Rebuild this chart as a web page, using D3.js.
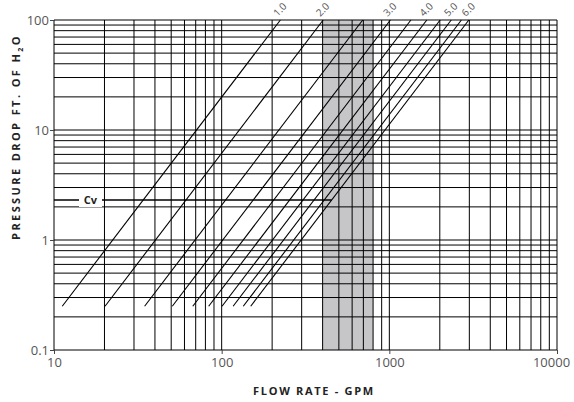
<!DOCTYPE html>
<html>
<head>
<meta charset="utf-8">
<script src="https://cdn.jsdelivr.net/npm/d3@7"></script>
<style>
  body { margin: 0; background: #fff; }
  svg text { font-family: "Open Sans", "Noto Sans", sans-serif; }
</style>
</head>
<body>
<svg id="chart" width="574" height="402"></svg>
<script>
// axis ticks
const flowTicks = [10, 100, 1000, 10000];
const dropTicks = [0.1, 1, 10, 100];
// flow (gpm) of each curve at 1 ft H2O drop
const curveFlowAt1 = [22.4, 40.3, 69.4, 101.5, 134.5, 167.3, 201, 234, 269, 298];
const curveLabels = ["1.0", "2.0", "", "3.0", "", "4.0", "", "5.0", "", "6.0"];
const curveDropRange = [0.25, 100];
const bandFlow = [400, 800];
const cvDrop = 2.31;

const svg = d3.select("#chart");
const x = d3.scaleLog().domain([10, 10000]).range([54, 557]);
const y = d3.scaleLog().domain([0.1, 100]).range([350, 20]);

// shaded band
svg.append("rect")
  .attr("x", x(bandFlow[0]))
  .attr("y", y(100))
  .attr("width", x(bandFlow[1]) - x(bandFlow[0]))
  .attr("height", y(0.1) - y(100))
  .attr("fill", "#c6c6c9");

// grid values 1..9 per decade
const gridX = [], gridY = [];
[10, 100, 1000].forEach(d => { for (let i = 1; i <= 9; i++) gridX.push(d * i); });
gridX.push(10000);
[0.1, 1, 10].forEach(d => { for (let i = 1; i <= 9; i++) gridY.push(+(d * i).toPrecision(2)); });
gridY.push(100);

const grid = svg.append("g").attr("stroke", "#000").attr("stroke-width", 1);
grid.selectAll(".gx").data(gridX).join("line")
  .attr("x1", d => x(d)).attr("x2", d => x(d))
  .attr("y1", y(0.1)).attr("y2", y(100));
grid.selectAll(".gy").data(gridY).join("line")
  .attr("y1", d => y(d)).attr("y2", d => y(d))
  .attr("x1", x(10)).attr("x2", x(10000));

// axes
const xAxis = svg.append("g")
  .attr("transform", `translate(0,${y(0.1)})`)
  .call(d3.axisBottom(x).tickValues(flowTicks).tickFormat(d3.format("d")).tickSize(4).tickPadding(4));
const yAxis = svg.append("g")
  .attr("transform", `translate(${x(10)},0)`)
  .call(d3.axisLeft(y).tickValues(dropTicks).tickFormat(d => d).tickSize(4).tickPadding(1));
[xAxis, yAxis].forEach(a => {
  a.select(".domain").remove();
  a.selectAll(".tick line").attr("stroke", "#444");
  a.selectAll(".tick text").attr("fill", "#555").style("font-size", "13px");
});
// keep the last label inside the page
xAxis.selectAll(".tick text").filter(d => d === 10000).attr("dx", -6);

// Cv curves
const curves = svg.append("g").attr("stroke", "#000").attr("stroke-width", 1.1);
curves.selectAll("line").data(curveFlowAt1).join("line")
  .attr("x1", d => x(d * Math.sqrt(curveDropRange[0])))
  .attr("y1", y(curveDropRange[0]))
  .attr("x2", d => x(d * Math.sqrt(curveDropRange[1])))
  .attr("y2", y(curveDropRange[1]));

svg.append("g").selectAll("text")
  .data(curveFlowAt1.map((d, i) => ({ q: d, label: curveLabels[i] })).filter(d => d.label))
  .join("text")
  .attr("transform", d => `translate(${x(d.q * Math.sqrt(curveDropRange[1])) - 3},${y(100) - 3}) rotate(-45)`)
  .attr("fill", "#555")
  .style("font-size", "10px")
  .text(d => d.label);

// Cv reference line at 1 psi
const cvEnd = x(d3.max(curveFlowAt1) * Math.sqrt(cvDrop));
svg.append("line")
  .attr("x1", x(10)).attr("x2", cvEnd)
  .attr("y1", y(cvDrop)).attr("y2", y(cvDrop))
  .attr("stroke", "#000").attr("stroke-width", 1.6);
svg.append("rect")
  .attr("x", 79).attr("y", y(cvDrop) - 7).attr("width", 23).attr("height", 14)
  .attr("fill", "#fff");
svg.append("text")
  .attr("x", 90.5).attr("y", y(cvDrop) + 4)
  .attr("text-anchor", "middle")
  .attr("fill", "#222")
  .style("font-size", "11px").style("font-weight", "bold")
  .text("Cv");

// titles
svg.append("text")
  .attr("x", 314).attr("y", 395)
  .attr("text-anchor", "middle")
  .attr("fill", "#222")
  .style("font-size", "11px").style("font-weight", "bold").style("letter-spacing", "1.7px")
  .text("FLOW RATE - GPM");

const yt = svg.append("text")
  .attr("transform", "translate(20,137) rotate(-90)")
  .attr("text-anchor", "middle")
  .attr("fill", "#222")
  .style("font-size", "11px").style("font-weight", "bold").style("letter-spacing", "2.4px");
yt.append("tspan").text("PRESSURE DROP FT. OF H");
yt.append("tspan").attr("dy", 3).style("font-size", "7px").text("2");
yt.append("tspan").attr("dy", -3).text("O");
</script>
</body>
</html>
